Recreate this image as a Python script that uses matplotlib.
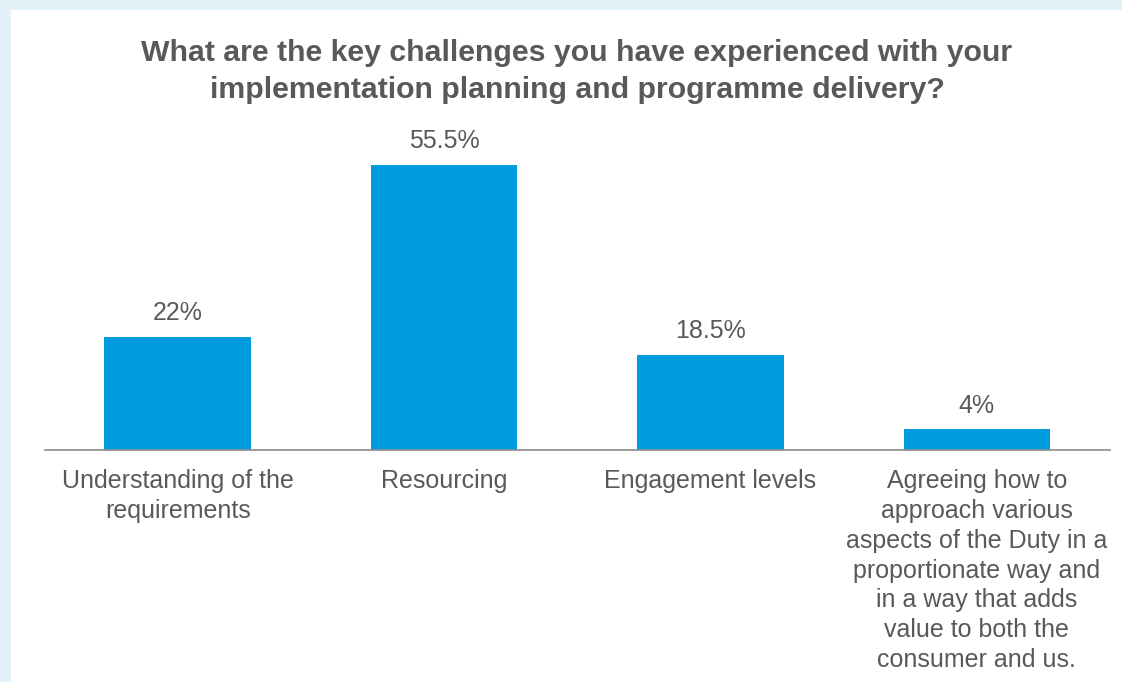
import matplotlib
matplotlib.use("Agg")
import matplotlib.pyplot as plt
from matplotlib.patches import Rectangle

categories = [
    "Understanding of the\nrequirements",
    "Resourcing",
    "Engagement levels",
    "Agreeing how to\napproach various\naspects of the Duty in a\nproportionate way and\nin a way that adds\nvalue to both the\nconsumer and us.",
]
values = [22, 55.5, 18.5, 4]
value_labels = ["22%", "55.5%", "18.5%", "4%"]
title = "What are the key challenges you have experienced with your\nimplementation planning and programme delivery?"

W, H = 1122, 682
fig = plt.figure(figsize=(W / 100, H / 100), dpi=100)
fig.patch.set_facecolor("#E1F1F7")
fig.patches.append(Rectangle((11 / W, 0), 1 - 11 / W, 1 - 10 / H, transform=fig.transFigure,
                             facecolor="white", edgecolor="none", zorder=-10))

plt.rcParams["font.family"] = ["Liberation Sans", "DejaVu Sans"]
gray = "#595959"

base_y = 450
top_y = 130
ax = fig.add_axes([44.5 / W, (H - base_y) / H, (1110 - 44.5) / W, (base_y - top_y) / H])
ax.set_zorder(5)
ax.set_facecolor("none")
x = range(len(values))
ax.bar(x, values, width=0.55, color="#009ADE", zorder=2)
ax.set_xlim(-0.5, 3.5)
ax.set_ylim(0, 320 / 5.135)
for s in ["top", "right", "left"]:
    ax.spines[s].set_visible(False)
ax.spines["bottom"].set_color("#8C8C8C")
ax.spines["bottom"].set_linewidth(1.2)
ax.set_yticks([])
ax.set_xticks(list(x))
ax.set_xticklabels(categories, fontsize=18, color=gray, linespacing=1.30, va="top")
ax.tick_params(axis="x", length=0, pad=14)
for i, (v, lab) in enumerate(zip(values, value_labels)):
    ax.annotate(lab, (i, v), xytext=(0, 17), textcoords="offset points",
                ha="center", va="center", fontsize=18, color=gray)

fig.text(577 / W, 1 - 71.5 / H, title, ha="center", va="center", fontsize=21.8,
         fontweight="bold", color=gray, linespacing=1.44)

fig.savefig("out.png", dpi=100)
